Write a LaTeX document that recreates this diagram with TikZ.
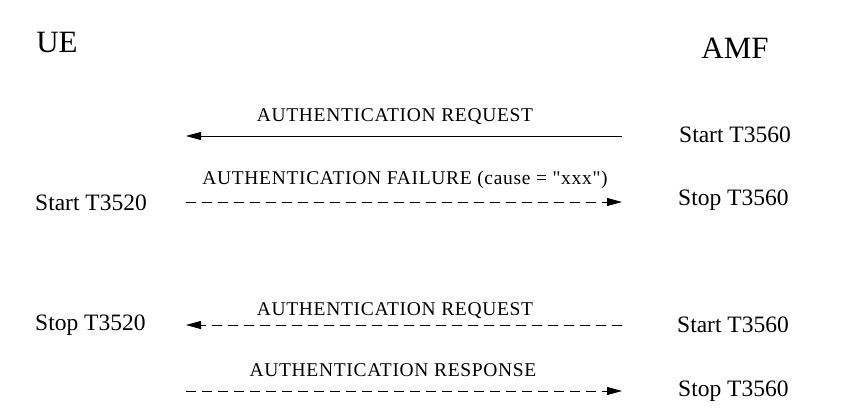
\documentclass[tikz,border=0pt]{standalone}
\usepackage{fontspec}
\setmainfont{Liberation Serif}
\newfontfamily\msgfont[LetterSpace=3.5]{Liberation Serif}
\usetikzlibrary{arrows.meta}

\begin{document}
\begin{tikzpicture}[line join=round,>={Triangle[length=15pt,width=8pt]},x=1pt,y=-1pt,
    ent/.style={font=\fontsize{31}{31}\selectfont, inner sep=0pt, anchor=base},
    tmr/.style={font=\fontsize{23.5}{23.5}\selectfont, inner sep=0pt, anchor=base west},
    msg/.style={font=\msgfont\fontsize{19.5}{19.5}\selectfont, inner sep=0pt, anchor=base},
    sig/.style={->, line width=0.8pt},
    dsh/.style={dash pattern=on 10pt off 6pt}]
    \useasboundingbox (0,0) rectangle (852,415);

    % entities
    \node[ent] (ue) at (57,52) {UE};
    \node[ent] (amf) at (735,58) {AMF};

    % end points of the signals
    \coordinate (ue1) at (186,136);
    \coordinate (amf1) at (622,136);
    \coordinate (ue2) at (186,202);
    \coordinate (amf2) at (622,202);
    \coordinate (ue3) at (186,325);
    \coordinate (amf3) at (622,325);
    \coordinate (ue4) at (186,391);
    \coordinate (amf4) at (622,391);

    % timers
    \node[tmr] (amfstart1) at (679,142) {Start T3560};
    \node[tmr] (amfstop1) at (678,205) {Stop T3560};
    \node[tmr] (uestart) at (35,210) {Start T3520};
    \node[tmr] (uestop) at (35,330) {Stop T3520};
    \node[tmr] (amfstart2) at (677,332) {Start T3560};
    \node[tmr] (amfstop2) at (678,396) {Stop T3560};

    % messages
    \node[msg] (req1) at (395,121) {AUTHENTICATION REQUEST};
    \draw[sig] (amf1) -- (ue1);

    \node[msg] (fail) at (405,184) {AUTHENTICATION FAILURE (cause = "xxx")};
    \draw[sig, dsh] (ue2) -- (amf2);

    \node[msg] (req2) at (395,315) {AUTHENTICATION REQUEST};
    \draw[sig, dsh] (amf3) -- (ue3);

    \node[msg] (resp) at (393,376) {AUTHENTICATION RESPONSE};
    \draw[sig, dsh] (ue4) -- (amf4);
\end{tikzpicture}
\end{document}
